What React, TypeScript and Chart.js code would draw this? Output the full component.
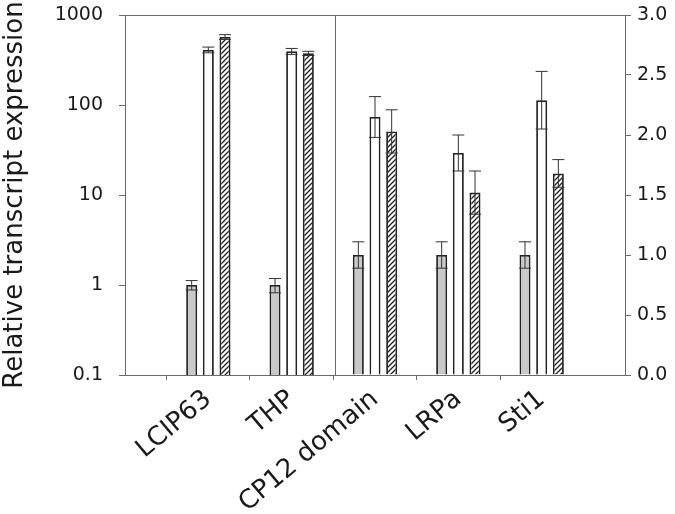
import React, { useEffect, useRef } from "react";
import { Chart, registerables } from "chart.js";

Chart.register(...registerables);

const categories = ["LCIP63", "THP", "CP12 domain", "LRPa", "Sti1"];
// which axis each category is read against: L = left log axis, R = right linear axis
const categoryAxis = ["L", "L", "R", "R", "R"];
const grayValues = [1.0, 1.0, 1.0, 1.0, 1.0];
const grayErrors = [0.12, 0.18, 0.11, 0.11, 0.11];
const whiteValues = [410, 395, 2.15, 1.85, 2.29];
const whiteErrors = [30, 30, 0.17, 0.15, 0.24];
const hatchedValues = [570, 375, 2.03, 1.52, 1.68];
const hatchedErrors = [35, 20, 0.18, 0.18, 0.115];
const leftTicks = [0.1, 1, 10, 100, 1000];
const rightTicks = [0, 0.5, 1.0, 1.5, 2.0, 2.5, 3.0];
const separatorAt = 2.52; // between THP and CP12 domain (index scale)

const FONT = "'DejaVu Sans', 'Liberation Sans', Arial, sans-serif";
const AXIS_COLOR = "#6a6a6a";
const TEXT_COLOR = "#1a1a1a";

function makeHatch(): CanvasPattern | string {
  const c = document.createElement("canvas");
  const s = 5;
  c.width = s;
  c.height = s;
  const g = c.getContext("2d");
  if (!g) return "#fff";
  g.fillStyle = "#ffffff";
  g.fillRect(0, 0, s, s);
  g.strokeStyle = "#222";
  g.lineWidth = 1.3;
  g.beginPath();
  g.moveTo(-1, s + 1);
  g.lineTo(s + 1, -1);
  g.moveTo(-1, 1);
  g.lineTo(1, -1);
  g.moveTo(s - 1, s + 1);
  g.lineTo(s + 1, s - 1);
  g.stroke();
  const p = g.createPattern(c, "repeat");
  return p || "#fff";
}

const errorBarPlugin = {
  id: "errorBars",
  afterDatasetsDraw(chart: any) {
    const ctx = chart.ctx;
    ctx.save();
    ctx.strokeStyle = "#333";
    ctx.lineWidth = 1;
    chart.data.datasets.forEach((ds: any, di: number) => {
      const meta = chart.getDatasetMeta(di);
      const yScale = chart.scales[ds.yAxisID];
      meta.data.forEach((bar: any, i: number) => {
        const v = ds.data[i];
        const e = ds.errors ? ds.errors[i] : null;
        if (v == null || e == null) return;
        const x = bar.x;
        const yTop = yScale.getPixelForValue(v + e);
        const yBot = yScale.getPixelForValue(v - e);
        const half = 6;
        ctx.beginPath();
        ctx.moveTo(x, yTop);
        ctx.lineTo(x, yBot);
        ctx.moveTo(x - half, yTop);
        ctx.lineTo(x + half, yTop);
        ctx.moveTo(x - half, yBot);
        ctx.lineTo(x + half, yBot);
        ctx.stroke();
      });
    });
    ctx.restore();
  },
};

const framePlugin = {
  id: "frame",
  afterDraw(chart: any) {
    const { ctx, chartArea } = chart;
    const xs = chart.scales.x;
    ctx.save();
    ctx.strokeStyle = AXIS_COLOR;
    ctx.lineWidth = 1;
    ctx.beginPath();
    ctx.moveTo(chartArea.left, chartArea.top + 0.5);
    ctx.lineTo(chartArea.right, chartArea.top + 0.5);
    const sx = Math.round(xs.getPixelForValue(separatorAt)) + 0.5;
    ctx.moveTo(sx, chartArea.top);
    ctx.lineTo(sx, chartArea.bottom);
    ctx.stroke();
    ctx.restore();
  },
};

export default function App() {
  const ref = useRef<HTMLCanvasElement | null>(null);

  useEffect(() => {
    if (!ref.current) return;
    const labels = ["", ...categories, ""];
    const pick = (vals: number[], side: string) => [
      null,
      ...vals.map((v, i) => (categoryAxis[i] === side ? v : null)),
      null,
    ];
    const hatch = makeHatch();
    const series = [
      { name: "gray", values: grayValues, errors: grayErrors, fill: "#c9c9c9" },
      { name: "white", values: whiteValues, errors: whiteErrors, fill: "#ffffff" },
      { name: "hatched", values: hatchedValues, errors: hatchedErrors, fill: hatch },
    ];
    const datasets: any[] = [];
    for (const side of ["L", "R"]) {
      for (const s of series) {
        datasets.push({
          label: s.name + side,
          data: pick(s.values, side),
          errors: pick(s.errors, side),
          yAxisID: side === "L" ? "y" : "y1",
          backgroundColor: s.fill,
          borderColor: "#222222",
          borderWidth: 1.8,
          borderSkipped: "start",
          categoryPercentage: 0.6,
          barPercentage: 0.66,
          skipNull: true,
        });
      }
    }

    const noVPad = (s: any) => {
      s.paddingTop = 0;
      s.paddingBottom = 0;
    };

    const chart = new Chart(ref.current, {
      type: "bar",
      data: { labels, datasets },
      options: {
        animation: false,
        responsive: false,
        maintainAspectRatio: false,
        devicePixelRatio: 1,
        layout: { padding: { top: 15, left: 0, right: 0, bottom: 0 } },
        plugins: {
          legend: { display: false },
          tooltip: { enabled: false },
        },
        scales: {
          x: {
            type: "category",
            offset: false,
            grid: {
              display: true,
              drawOnChartArea: false,
              drawTicks: true,
              tickLength: 5,
              color: (c: any) =>
                c.index === 0 || c.index === labels.length - 1 ? "rgba(0,0,0,0)" : AXIS_COLOR,
            },
            border: { display: true, color: AXIS_COLOR, width: 1 },
            ticks: {
              autoSkip: false,
              minRotation: 40,
              maxRotation: 40,
              padding: 4,
              color: TEXT_COLOR,
              font: { family: FONT, size: 26 },
            },
            afterFit: (s: any) => {
              s.height = 139;
              s.paddingLeft = 0;
              s.paddingRight = 0;
            },
          },
          y: {
            type: "logarithmic",
            position: "left",
            min: 0.1,
            max: 1000,
            afterBuildTicks: (s: any) => {
              s.ticks = leftTicks.map((v) => ({ value: v, major: true }));
            },
            grid: { drawOnChartArea: false, drawTicks: true, tickLength: 6, color: AXIS_COLOR },
            border: { display: true, color: AXIS_COLOR, width: 1 },
            ticks: {
              padding: 16,
              color: TEXT_COLOR,
              font: { family: FONT, size: 19 },
              callback: (v: any) => String(v),
            },
            title: {
              display: true,
              text: "Relative transcript expression",
              color: TEXT_COLOR,
              font: { family: FONT, size: 26 },
              padding: { top: 0, bottom: 0 },
            },
            afterFit: (s: any) => {
              s.width = 125;
              noVPad(s);
            },
          },
          y1: {
            type: "linear",
            position: "right",
            min: 0,
            max: 3,
            afterBuildTicks: (s: any) => {
              s.ticks = rightTicks.map((v) => ({ value: v }));
            },
            grid: { drawOnChartArea: false, drawTicks: true, tickLength: 6, color: AXIS_COLOR },
            border: { display: true, color: AXIS_COLOR, width: 1 },
            ticks: {
              padding: 6,
              color: TEXT_COLOR,
              font: { family: FONT, size: 19 },
              callback: (v: any) => Number(v).toFixed(1),
            },
            afterFit: (s: any) => {
              s.width = 50;
              noVPad(s);
            },
          },
        },
      },
      plugins: [errorBarPlugin, framePlugin],
    });
    return () => chart.destroy();
  }, []);

  return (
    <div style={{ position: "absolute", left: 0, top: 0, width: 675, height: 514, background: "#fff" }}>
      <canvas ref={ref} width={675} height={514} />
    </div>
  );
}
